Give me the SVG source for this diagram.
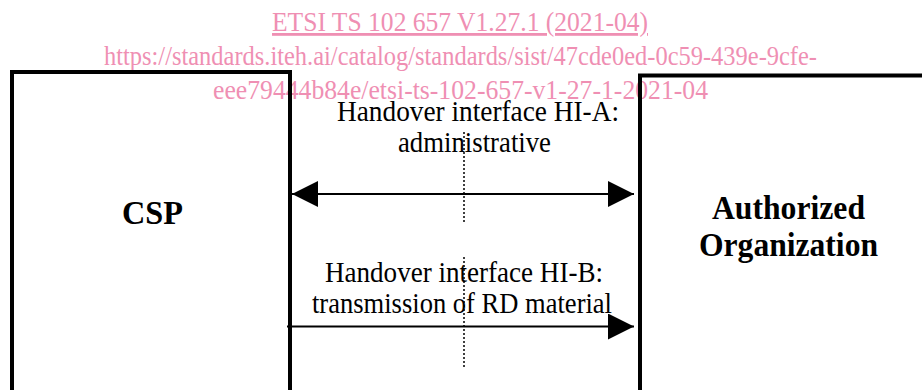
<svg xmlns="http://www.w3.org/2000/svg" width="922" height="390" viewBox="0 0 922 390">
<style>
.wm{font-family:"Liberation Serif","Times New Roman",serif;font-size:28px;fill:#ef8fb3;text-anchor:middle}
.lbl{font-family:"Liberation Serif","Times New Roman",serif;font-size:29px;fill:#000;text-anchor:middle}
.nm{font-family:"Liberation Serif","Times New Roman",serif;font-size:33.5px;font-weight:bold;fill:#000;text-anchor:middle}
.box{fill:#fff;stroke:#000;stroke-width:4}
.ln{stroke:#000;stroke-width:2;fill:none}
.dot{stroke:#000;stroke-width:1.5;stroke-dasharray:2 2;fill:none}
</style>
<defs>
<marker id="ah" viewBox="0 0 26 26" refX="26" refY="13" markerWidth="26" markerHeight="26" markerUnits="userSpaceOnUse" orient="auto-start-reverse">
<path d="M0,0 L26,13 L0,26 Z" fill="#000"/>
</marker>
</defs>
<rect width="922" height="390" fill="#fff"/>
<g id="watermark">
<text class="wm" x="460" y="31" textLength="376" lengthAdjust="spacingAndGlyphs" text-decoration="underline">ETSI TS 102 657 V1.27.1 (2021-04)</text>
<text class="wm" x="460.5" y="65" textLength="713" lengthAdjust="spacingAndGlyphs">https://standards.iteh.ai/catalog/standards/sist/47cde0ed-0c59-439e-9cfe-</text>
<text class="wm" x="460.5" y="98.5" textLength="495" lengthAdjust="spacingAndGlyphs">eee79444b84e/etsi-ts-102-657-v1-27-1-2021-04</text>
</g>
<g id="csp">
<rect class="box" x="12" y="72" width="278" height="340" fill-opacity="0"/>
<text class="nm" x="152.5" y="224" textLength="61" lengthAdjust="spacingAndGlyphs">CSP</text>
</g>
<g id="ao">
<rect class="box" x="640" y="75.5" width="300" height="340" fill-opacity="0"/>
<text class="nm" x="788.5" y="219" textLength="153" lengthAdjust="spacingAndGlyphs">Authorized</text>
<text class="nm" x="788.5" y="255.5" textLength="179" lengthAdjust="spacingAndGlyphs">Organization</text>
</g>
<g id="connectors">
<line class="dot" x1="464" y1="132" x2="464" y2="222"/>
<line class="dot" x1="464" y1="257" x2="464" y2="367"/>
<line class="ln" x1="292" y1="194" x2="634" y2="194" marker-start="url(#ah)" marker-end="url(#ah)"/>
<line class="ln" x1="287" y1="326.5" x2="634" y2="326.5" marker-end="url(#ah)"/>
</g>
<g id="labels">
<text class="lbl" x="478" y="121" textLength="282" lengthAdjust="spacingAndGlyphs">Handover interface HI-A:</text>
<text class="lbl" x="474.5" y="152" textLength="153" lengthAdjust="spacingAndGlyphs">administrative</text>
<text class="lbl" x="464" y="282" textLength="278" lengthAdjust="spacingAndGlyphs">Handover interface HI-B:</text>
<text class="lbl" x="462" y="313" textLength="300" lengthAdjust="spacingAndGlyphs">transmission of RD material</text>
</g>
</svg>
